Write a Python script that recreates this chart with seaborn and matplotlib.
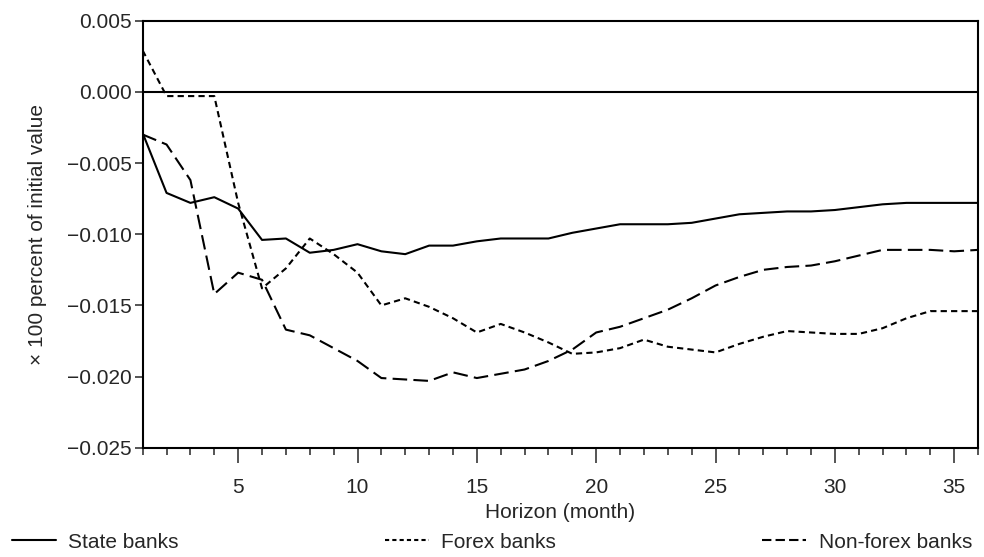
import matplotlib
matplotlib.use('Agg')
import matplotlib.pyplot as plt
from matplotlib.ticker import MultipleLocator
import seaborn as sns
import numpy as np
import pandas as pd

horizon = list(range(1, 37))

state_banks = [-0.0029, -0.0071, -0.0078, -0.0074, -0.0082, -0.0104, -0.0103, -0.0113, -0.0111, -0.0107,
               -0.0112, -0.0114, -0.0108, -0.0108, -0.0105, -0.0103, -0.0103, -0.0103, -0.0099, -0.0096,
               -0.0093, -0.0093, -0.0093, -0.0092, -0.0089, -0.0086, -0.0085, -0.0084, -0.0084, -0.0083,
               -0.0081, -0.0079, -0.0078, -0.0078, -0.0078, -0.0078]

forex_banks = [0.0029, -0.0003, -0.0003, -0.0003, -0.0078, -0.0138, -0.0124, -0.0103, -0.0114, -0.0127,
               -0.0150, -0.0145, -0.0151, -0.0159, -0.0169, -0.0163, -0.0169, -0.0176, -0.0184, -0.0183,
               -0.0180, -0.0174, -0.0179, -0.0181, -0.0183, -0.0177, -0.0172, -0.0168, -0.0169, -0.0170,
               -0.0170, -0.0166, -0.0159, -0.0154, -0.0154, -0.0154]

nonforex_banks = [-0.0030, -0.0037, -0.0062, -0.0142, -0.0127, -0.0132, -0.0167, -0.0171, -0.0180, -0.0189,
                  -0.0201, -0.0202, -0.0203, -0.0197, -0.0201, -0.0198, -0.0195, -0.0189, -0.0181, -0.0169,
                  -0.0165, -0.0159, -0.0153, -0.0145, -0.0136, -0.0130, -0.0125, -0.0123, -0.0122, -0.0119,
                  -0.0115, -0.0111, -0.0111, -0.0111, -0.0112, -0.0111]

series_names = ['State banks', 'Forex banks', 'Non-forex banks']
y_ticks = [-0.025, -0.020, -0.015, -0.010, -0.005, 0.000, 0.005]
y_ticklabels = ['\u22120.025', '\u22120.020', '\u22120.015', '\u22120.010', '\u22120.005', '0.000', '0.005']

df = pd.DataFrame({'Horizon': horizon,
                   series_names[0]: state_banks,
                   series_names[1]: forex_banks,
                   series_names[2]: nonforex_banks})
df = df.melt(id_vars='Horizon', var_name='bank', value_name='value')

sns.set_style('ticks')
plt.rcParams['font.family'] = ['Liberation Sans', 'DejaVu Sans']

fig, ax = plt.subplots(figsize=(9.84, 5.57), dpi=100)
fig.subplots_adjust(left=0.145, right=0.994, top=0.963, bottom=0.196)

dash_styles = {'State banks': '', 'Forex banks': (3, 2), 'Non-forex banks': (7, 3)}
sns.lineplot(data=df, x='Horizon', y='value', hue='bank', style='bank',
             palette=['black'] * 3, dashes=dash_styles, linewidth=1.5, ax=ax)

ax.axhline(0, color='black', linewidth=1.5)

ax.set_xlim(1, 36)
ax.set_ylim(-0.025, 0.005)
ax.xaxis.set_major_locator(MultipleLocator(5))
ax.xaxis.set_minor_locator(MultipleLocator(1))
ax.set_yticks(y_ticks)
ax.set_yticklabels(y_ticklabels)

ax.tick_params(axis='x', which='major', length=11, width=1.1, labelsize=15, pad=11, direction='out')
ax.tick_params(axis='x', which='minor', length=5, width=1.1, direction='out')
ax.tick_params(axis='y', which='major', length=6, width=1.1, labelsize=15, pad=2)
for side in ['top', 'bottom', 'left', 'right']:
    ax.spines[side].set_linewidth(1.5)
    ax.spines[side].set_color('black')

ax.set_xlabel('Horizon (month)', fontsize=15, labelpad=4)
ax.set_ylabel('\u00d7 100 percent of initial value', fontsize=15, labelpad=14)

handles, labels = ax.get_legend_handles_labels()
ax.get_legend().remove()
# shorter dash patterns in the legend keys, like the printed key
handles[1].set_dashes((2, 1.5))
handles[2].set_dashes((4.5, 2))
fig.legend(handles, labels, loc='lower left', bbox_to_anchor=(0.01, 0.006, 0.98, 0.05),
           mode='expand', ncol=3, frameon=False, fontsize=15,
           handlelength=2.1, handletextpad=0.6, borderaxespad=0.0, borderpad=0.1)

fig.savefig('out.png', dpi=100)
